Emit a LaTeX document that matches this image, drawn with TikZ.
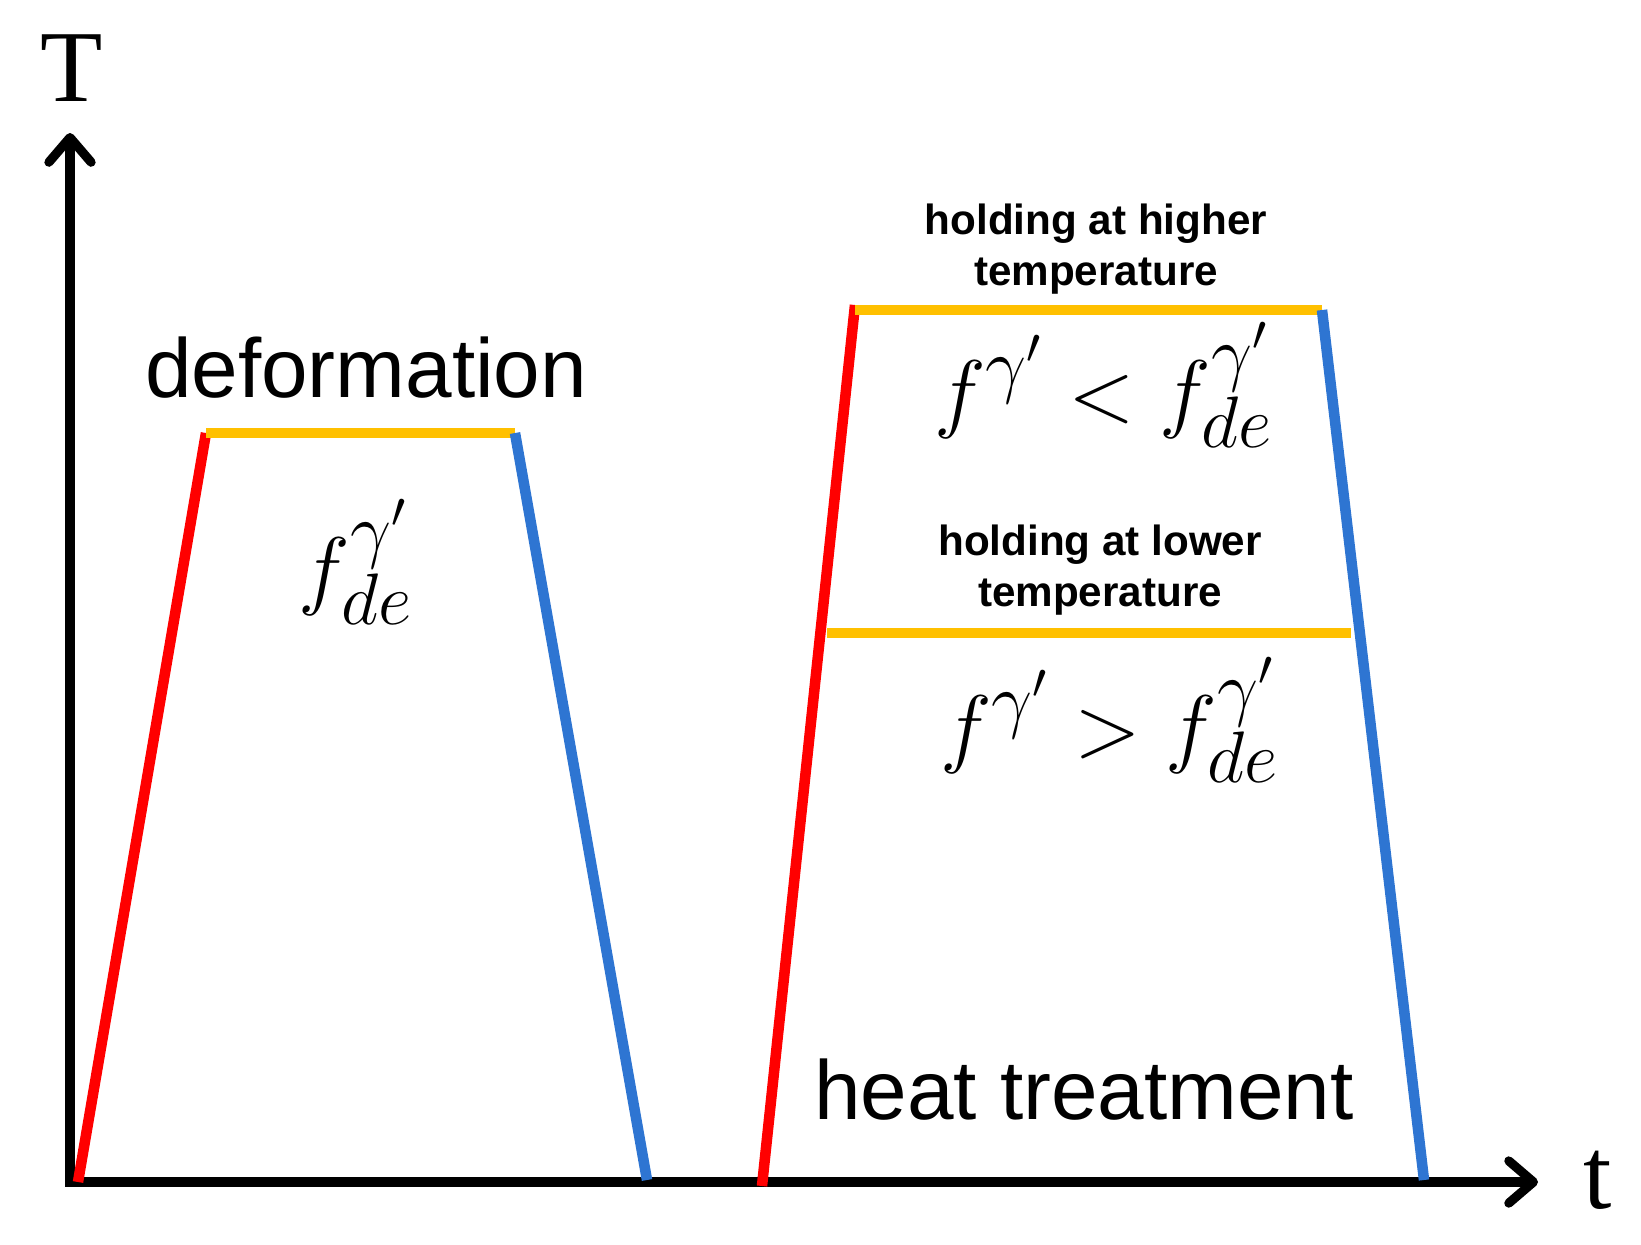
\documentclass[tikz,border=0pt]{standalone}
\usepackage[no-math]{fontspec}
\setsansfont{Liberation Sans}
\newfontfamily\axisfont{Liberation Serif}
\usetikzlibrary{arrows.meta}
\definecolor{heatred}{RGB}{255,0,0}
\definecolor{coolblue}{RGB}{46,117,210}
\definecolor{holdgold}{RGB}{255,192,0}
\begin{document}
\begin{tikzpicture}[x=0.01cm,y=-0.01cm,
    axis/.style={line width=2.6pt,line join=miter,
      {Straight Barb[length=7pt,width=12pt,round]}-{Straight Barb[length=7pt,width=12pt,round]}},
    heating/.style={heatred,line width=3pt},
    cooling/.style={coolblue,line width=3pt},
    holding/.style={holdgold,line width=3pt},
    axislabel/.style={inner sep=0pt,font=\axisfont\fontsize{29}{34}\selectfont},
    stagelabel/.style={inner sep=0pt,font=\sffamily\fontsize{23.8}{28}\selectfont},
    holdlabel/.style={inner sep=0pt,align=center,font=\sffamily\bfseries\fontsize{12}{14.5}\selectfont},
    fraction/.style={inner sep=0pt,font=\fontsize{28}{34}\selectfont}]
    \useasboundingbox (0,0) rectangle (1641,1244);

    % Set up the axes
    \coordinate (O) at (70,1182);
    \coordinate (Ttip) at (70,133);
    \coordinate (ttip) at (1538,1182);
    \draw[axis] (Ttip) -- (O) -- (ttip);
    \node[axislabel] (T) at (72,68) {T};
    \node[axislabel] (t) at (1598,1180) {t};

    % deformation cycle
    \coordinate (d1) at (78,1182);
    \coordinate (d2) at (206,433);
    \coordinate (d3) at (515,433);
    \coordinate (d4) at (647,1180);
    \draw[heating] (d1) -- (d2);
    \draw[holding] (d2) -- (d3);
    \draw[cooling] (d3) -- (d4);
    \node[stagelabel] (deform) at (366,368) {deformation};
    \node[fraction] (fde) at (356,562) {$f^{\gamma'}_{de}$};

    % heat treatment cycle
    \coordinate (h1) at (762,1186);
    \coordinate (h2) at (855,305);
    \coordinate (h3) at (1322,310);
    \coordinate (h4) at (1424,1180);
    \coordinate (l1) at (827,633);
    \coordinate (l2) at (1351,633);
    \draw[heating] (h1) -- (h2);
    \draw[holding] (h2 |- h3) -- (h3);
    \draw[cooling] (h3) -- (h4);
    \draw[holding] (l1) -- (l2);
    \node[stagelabel] (heat) at (1084,1090) {heat treatment};

    % labels of the holding steps
    \node[holdlabel] (higher) at (1096,249) {holding at higher\\temperature};
    \node[holdlabel] (lower) at (1100,570) {holding at lower\\temperature};
    \node[fraction] (fless) at (1104,385) {$f^{\gamma'} < f^{\gamma'}_{de}$};
    \node[fraction] (fmore) at (1110,720) {$f^{\gamma'} > f^{\gamma'}_{de}$};

\end{tikzpicture}
\end{document}
